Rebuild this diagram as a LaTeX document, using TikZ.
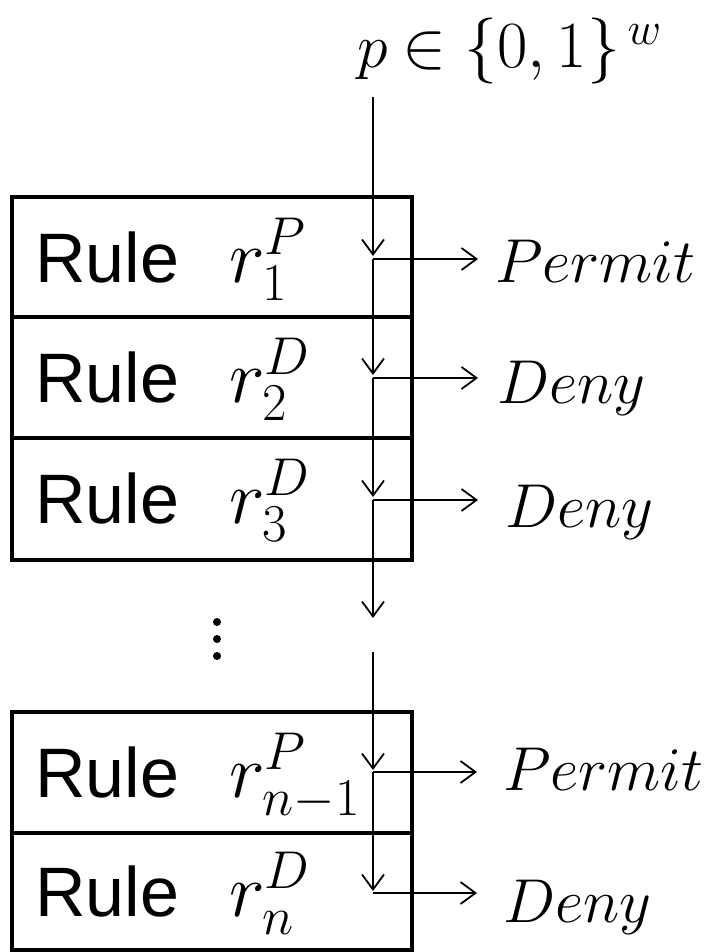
\RequirePackage{fix-cm}
\documentclass[tikz,border=0pt]{standalone}
\usepackage[no-math]{fontspec}
\newfontfamily\rulefont{Liberation Sans}
\usetikzlibrary{arrows.meta}
\tikzset{
  rulebox/.style={draw, line width=4pt, minimum width=400pt, inner sep=0pt},
  flow/.style={line width=1.8pt, -{Straight Barb[length=15pt,width=22pt]}},
  rtxt/.style={anchor=base west, inner sep=0pt, font=\rulefont\fontsize{70}{80}\selectfont},
  mtxt/.style={anchor=base west, inner sep=0pt, font=\fontsize{76}{80}\selectfont},
  otxt/.style={anchor=base west, inner sep=0pt, font=\fontsize{62}{70}\selectfont},
  dot/.style={circle, fill, inner sep=0pt, minimum size=8pt},
}
\begin{document}
\begin{tikzpicture}[x=1pt, y=-1pt]
\useasboundingbox (0,0) rectangle (709,952);
% rule boxes
\node[rulebox, minimum height=120pt] (b1) at (212,257) {};
\node[rulebox, minimum height=121pt] (b2) at (212,377.5) {};
\node[rulebox, minimum height=122pt] (b3) at (212,499) {};
\node[rulebox, minimum height=121pt] (b4) at (212,772.5) {};
\node[rulebox, minimum height=117pt] (b5) at (212,891.5) {};
% rule labels
\node[rtxt] (l1) at (35,282) {Rule};
\node[mtxt] (m1) at (229,282) {$r_1^P$};
\node[rtxt] (l2) at (35,402) {Rule};
\node[mtxt] (m2) at (229,402) {$r_2^D$};
\node[rtxt] (l3) at (35,523) {Rule};
\node[mtxt] (m3) at (229,523) {$r_3^D$};
\node[rtxt] (l4) at (35,797) {Rule};
\node[mtxt] (m4) at (229,797) {$r_{n-1}^P$};
\node[rtxt] (l5) at (35,916) {Rule};
\node[mtxt] (m5) at (229,916) {$r_n^D$};
% input
\node[anchor=base west, inner sep=0pt, font=\fontsize{62}{70}\selectfont] (p) at (357,68) {$p$};
\node[anchor=base west, inner sep=0pt, font=\fontsize{66}{72}\selectfont] (dom) at (402,68) {${\in}\;\{0,1\}^{\,w}$};
% outcomes
\node[otxt] (o1) at (495,282) {$Permit$};
\node[otxt] (o2) at (497,403) {$Deny$};
\node[otxt] (o3) at (505,527) {$Deny$};
\node[otxt] (o4) at (503,790) {$Permit$};
\node[otxt] (o5) at (503,922) {$Deny$};
% dots
\node[dot] (d1) at (217,622) {};
\node[dot] (d2) at (217,639) {};
\node[dot] (d3) at (217,656) {};
% flow coordinates
\coordinate (top) at (373,97);
\coordinate (j1) at (373,259);
\coordinate (j2) at (373,378);
\coordinate (j3) at (373,500);
\coordinate (gapa) at (373,618);
\coordinate (gapb) at (373,652);
\coordinate (j4) at (373,772);
\coordinate (j5) at (373,893);
\coordinate (e1) at (478,259);
\coordinate (e2) at (478,378);
\coordinate (e3) at (478,500);
\coordinate (e4) at (477,772);
\coordinate (e5) at (477,893);
% connectors
\draw[flow, shorten >=3pt] (top) -- (j1);
\draw[flow, shorten >=3pt] (j1) -- (j2);
\draw[flow, shorten >=3pt] (j2) -- (j3);
\draw[flow] (j3) -- (gapa);
\draw[flow, shorten >=2pt] (gapb) -- (j4);
\draw[flow, shorten >=2pt] (j4) -- (j5);
\draw[flow] (j1) -- (e1);
\draw[flow] (j2) -- (e2);
\draw[flow] (j3) -- (e3);
\draw[flow] (j4) -- (e4);
\draw[flow] (j5) -- (e5);
\end{tikzpicture}
\end{document}
